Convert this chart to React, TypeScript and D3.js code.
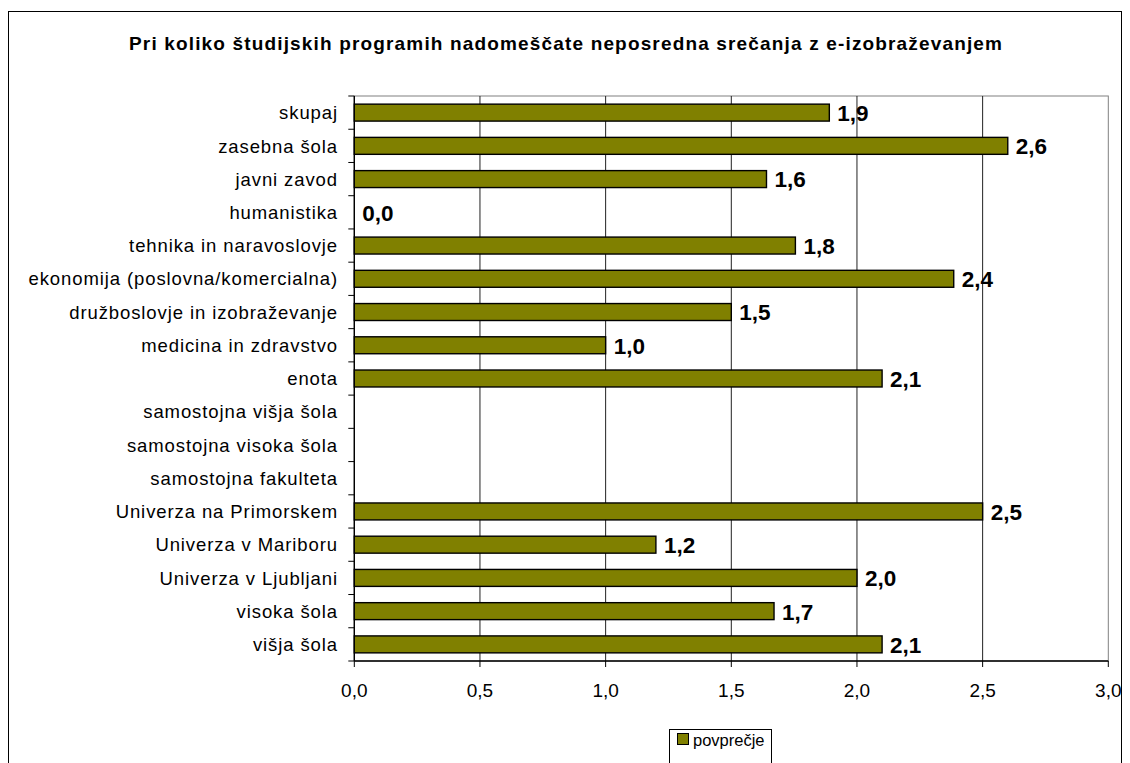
import React from "react";
import * as d3 from "d3";

const categories: string[] = [
  "skupaj",
  "zasebna šola",
  "javni zavod",
  "humanistika",
  "tehnika in naravoslovje",
  "ekonomija (poslovna/komercialna)",
  "družboslovje in izobraževanje",
  "medicina in zdravstvo",
  "enota",
  "samostojna višja šola",
  "samostojna visoka šola",
  "samostojna fakulteta",
  "Univerza na Primorskem",
  "Univerza v Mariboru",
  "Univerza v Ljubljani",
  "visoka šola",
  "višja šola",
];

const values: (number | null)[] = [
  1.89, 2.6, 1.64, 0.0, 1.755, 2.385, 1.5, 1.0, 2.1, null, null, null, 2.5, 1.2, 2.0, 1.67, 2.1,
];

const xTicks: number[] = [0, 0.5, 1, 1.5, 2, 2.5, 3];
const title = "Pri koliko študijskih programih nadomeščate neposredna srečanja z e-izobraževanjem";
const legendLabel = "povprečje";

const W = 1130;
const H = 763;
const FONT = "Arial, 'Liberation Sans', sans-serif";
const BAR = "#808000";

export default function App() {
  const plotL = 354.3;
  const plotR = 1108.3;
  const plotT = 96;
  const plotB = 661;

  const x = d3.scaleLinear().domain([0, 3]).range([plotL, plotR]);
  const y = d3.scaleBand<string>().domain(categories).range([plotT, plotB]).paddingInner(0.49).paddingOuter(0.245);
  const yOuter = d3.scaleBand<string>().domain(categories).range([plotT, plotB]);
  const fmt = (v: number) => d3.format(".1f")(v).replace(".", ",");

  return (
    <svg width={W} height={H} style={{ position: "absolute", left: 0, top: 0, display: "block" }}>
      <rect x={0} y={0} width={W} height={H} fill="#fff" />
      <rect x={8.5} y={11.5} width={1113} height={H} fill="#fff" stroke="#000" strokeWidth={1} />
      <text
        x={129}
        y={50}
        fontFamily={FONT}
        fontWeight="bold"
        fontSize={19}
        textLength={873}
        lengthAdjust="spacing"
        fill="#000"
      >
        {title}
      </text>
      {/* plot border */}
      <rect x={plotL} y={plotT} width={plotR - plotL} height={plotB - plotT} fill="#fff" stroke="#808080" strokeWidth={1} />
      {/* grid lines */}
      {xTicks.slice(1, -1).map((t) => (
        <line key={"g" + t} x1={x(t)} x2={x(t)} y1={plotT} y2={plotB} stroke="#222" strokeWidth={1} />
      ))}
      {/* bars */}
      {categories.map((c, i) => {
        const v = values[i];
        if (v === null || v === 0) return null;
        return (
          <rect
            key={"b" + c}
            x={x(0)}
            y={y(c)!}
            width={x(v) - x(0)}
            height={y.bandwidth()}
            fill={BAR}
            stroke="#000"
            strokeWidth={1.4}
          />
        );
      })}
      {/* value labels */}
      {categories.map((c, i) => {
        const v = values[i];
        if (v === null) return null;
        return (
          <text
            key={"v" + c}
            x={x(v) + 8}
            y={yOuter(c)! + yOuter.bandwidth() / 2 + 8.4}
            fontFamily={FONT}
            fontWeight="bold"
            fontSize={22.5}
            fill="#000"
          >
            {fmt(v)}
          </text>
        );
      })}
      {/* y axis */}
      <line x1={plotL} x2={plotL} y1={plotT} y2={plotB} stroke="#000" strokeWidth={1.4} />
      {categories.map((c) => (
        <line key={"yt" + c} x1={plotL - 6} x2={plotL} y1={yOuter(c)!} y2={yOuter(c)!} stroke="#000" strokeWidth={1} />
      ))}
      <line x1={plotL - 6} x2={plotL} y1={plotB} y2={plotB} stroke="#000" strokeWidth={1} />
      {categories.map((c) => (
        <text
          key={"yl" + c}
          x={338}
          y={yOuter(c)! + yOuter.bandwidth() / 2 + 6.7}
          textAnchor="end"
          fontFamily={FONT}
          fontSize={18.5}
          letterSpacing={0.9}
          fill="#000"
        >
          {c}
        </text>
      ))}
      {/* x axis */}
      <line x1={plotL} x2={plotR} y1={plotB} y2={plotB} stroke="#000" strokeWidth={1.4} />
      {xTicks.map((t) => (
        <g key={"xt" + t}>
          <line x1={x(t)} x2={x(t)} y1={plotB} y2={plotB + 6} stroke="#000" strokeWidth={1} />
          <text
            x={x(t)}
            y={697}
            textAnchor="middle"
            fontFamily={FONT}
            fontSize={19}
            fill="#000"
          >
            {fmt(t)}
          </text>
        </g>
      ))}
      {/* legend */}
      <rect x={669.5} y={729.5} width={102} height={40} fill="#fff" stroke="#000" strokeWidth={1} />
      <rect x={677.5} y={733.5} width={11} height={11} fill={BAR} stroke="#000" strokeWidth={1} />
      <text x={693} y={746} fontFamily={FONT} fontSize={16.5} fill="#000">
        {legendLabel}
      </text>
    </svg>
  );
}
